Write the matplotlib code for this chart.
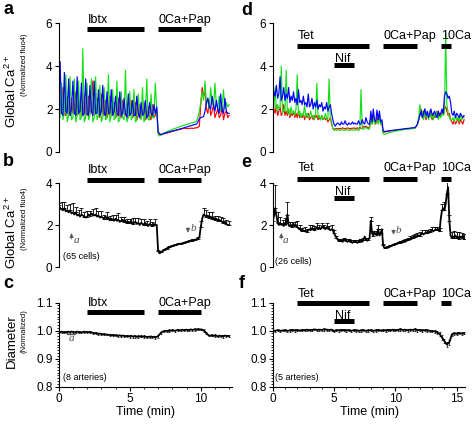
import numpy as np
import matplotlib
matplotlib.use('Agg')
import matplotlib.pyplot as plt
from matplotlib.ticker import MultipleLocator, FormatStrFormatter

plt.rcParams['font.family'] = 'Liberation Sans'
plt.rcParams['mathtext.fontset'] = 'custom'
plt.rcParams['mathtext.rm'] = 'Liberation Sans'
plt.rcParams['axes.linewidth'] = 0.8

# ---------------- data (sampled every 0.1 min unless noted) ----------------
# panel a: three example cells, Ibtx protocol
blue_a = [
    2.0, 4.2, 1.8, 1.7, 3.7, 1.9, 1.8, 3.4, 1.7, 2.0,
    3.3, 1.8, 1.7, 3.5, 1.8, 1.9, 3.2, 1.7, 1.8, 3.4,
    1.8, 1.7, 3.1, 1.9, 1.7, 3.3, 1.8, 1.8, 2.9, 1.7,
    1.9, 3.1, 1.8, 1.7, 2.8, 1.8, 1.8, 2.9, 1.7, 1.9,
    2.6, 1.8, 1.7, 2.8, 1.7, 1.8, 2.5, 1.8, 1.6, 2.7,
    1.7, 1.8, 2.4, 1.7, 1.7, 2.6, 1.8, 1.6, 2.3, 1.7,
    1.8, 2.4, 1.6, 1.7, 2.3, 1.8, 1.7, 2.2, 1.8, 2.1,
    0.95, 0.85, 0.82, 0.84, 0.87, 0.88, 0.9, 0.93, 0.93, 0.95,
    0.98, 0.99, 1.0, 1.03, 1.04, 1.06, 1.09, 1.1, 1.12, 1.15,
    1.16, 1.18, 1.21, 1.22, 1.24, 1.27, 1.28, 1.3, 1.4, 1.55,
    1.6, 1.62, 1.65, 1.9, 2.3, 2.5, 2.1, 2.0, 2.6, 2.2,
    1.9, 2.4, 2.0, 1.8, 2.7, 1.9, 1.8, 2.5, 1.9, 1.8, 1.8]
red_a = [
    2.8, 2.2, 1.9, 3.0, 1.8, 1.7, 2.6, 1.9, 1.7, 2.5,
    1.8, 1.9, 2.8, 1.7, 1.8, 2.4, 1.6, 1.9, 2.7, 1.8,
    1.7, 2.6, 1.8, 2.0, 3.3, 1.7, 1.8, 2.5, 1.9, 1.6,
    2.7, 1.8, 1.7, 2.4, 1.6, 1.8, 2.6, 1.7, 1.8, 2.3,
    1.6, 1.7, 2.5, 1.7, 1.6, 2.4, 1.8, 1.7, 2.2, 1.6,
    1.8, 2.4, 1.6, 1.7, 2.3, 1.5, 1.7, 2.2, 1.6, 1.8,
    2.3, 1.5, 1.6, 2.1, 1.7, 1.5, 2.2, 1.6, 1.7, 2.0,
    0.9, 0.82, 0.8, 0.82, 0.84, 0.86, 0.88, 0.9, 0.92, 0.94,
    0.96, 0.98, 1.0, 1.02, 1.03, 1.05, 1.06, 1.08, 1.1, 1.1,
    1.1, 1.09, 1.1, 1.11, 1.1, 1.1, 1.12, 1.12, 1.15, 1.2,
    2.2, 3.0, 2.6, 2.8, 2.0, 1.8, 2.4, 1.7, 1.9, 2.2,
    1.6, 1.8, 2.0, 1.6, 1.7, 2.1, 1.5, 1.8, 1.9, 1.6, 1.7]
green_a = [
    2.4, 1.6, 3.2, 1.5, 1.8, 3.6, 1.4, 1.7, 3.5, 1.5,
    1.6, 3.4, 1.4, 1.7, 3.3, 1.5, 1.6, 4.8, 1.4, 1.6,
    3.2, 1.5, 1.7, 3.4, 1.4, 1.6, 3.5, 1.5, 1.7, 3.1,
    1.4, 1.6, 3.0, 1.5, 1.6, 3.6, 1.4, 1.7, 2.9, 1.5,
    1.6, 3.3, 1.4, 1.5, 2.8, 1.6, 1.5, 3.8, 1.4, 1.6,
    2.8, 1.5, 1.6, 2.9, 1.4, 1.5, 2.7, 1.6, 1.5, 3.0,
    1.4, 1.6, 3.4, 1.5, 1.5, 2.7, 1.6, 1.6, 3.2, 2.0,
    0.8, 0.75, 0.78, 0.82, 0.86, 0.9, 0.94, 0.97, 1.0, 1.02,
    1.05, 1.08, 1.1, 1.12, 1.15, 1.17, 1.2, 1.22, 1.24, 1.26,
    1.28, 1.3, 1.32, 1.34, 1.36, 1.38, 1.4, 1.45, 1.6, 1.9,
    2.3, 2.8, 2.4, 3.3, 2.2, 2.5, 2.0, 3.0, 2.3, 2.1,
    3.2, 2.2, 2.0, 2.6, 1.9, 2.1, 2.9, 2.0, 2.3, 2.1, 2.2]

# panel b: mean of 65 cells, upper SEM every 0.2 min
mean_b = [
    2.95, 2.8, 2.75, 2.7, 2.8, 2.65, 2.7, 2.6, 2.7, 2.55,
    2.6, 2.5, 2.6, 2.45, 2.5, 2.4, 2.5, 2.45, 2.4, 2.35,
    2.4, 2.5, 2.45, 2.55, 2.5, 2.45, 2.5, 2.4, 2.45, 2.35,
    2.4, 2.35, 2.3, 2.4, 2.3, 2.35, 2.25, 2.3, 2.25, 2.2,
    2.3, 2.2, 2.25, 2.15, 2.2, 2.25, 2.15, 2.2, 2.1, 2.15,
    2.1, 2.2, 2.05, 2.1, 2.15, 2.05, 2.1, 2.0, 2.1, 2.05,
    2.0, 2.1, 2.0, 1.95, 2.05, 2.0, 1.95, 2.05, 2.0, 2.0,
    0.75, 0.65, 0.7, 0.75, 0.8, 0.85, 0.88, 0.92, 0.95, 0.97,
    1.0, 1.02, 1.04, 1.06, 1.08, 1.1, 1.11, 1.13, 1.15, 1.17,
    1.19, 1.2, 1.22, 1.24, 1.26, 1.28, 1.3, 1.32, 1.35, 1.4,
    1.9, 2.3, 2.5, 2.45, 2.4, 2.45, 2.35, 2.4, 2.3, 2.35,
    2.25, 2.3, 2.2, 2.25, 2.2, 2.15, 2.1, 2.15, 2.05, 2.0, 2.0]
err_b = [
    0.1, 0.35, 0.3, 0.25, 0.3, 0.45, 0.25, 0.2, 0.3, 0.2,
    0.25, 0.2, 0.25, 0.3, 0.2, 0.25, 0.2, 0.3, 0.2, 0.25,
    0.2, 0.3, 0.2, 0.25, 0.2, 0.2, 0.3, 0.2, 0.25, 0.2,
    0.3, 0.2, 0.25, 0.2, 0.3,
    0.05, 0.04, 0.04, 0.04, 0.04, 0.04, 0.04, 0.04, 0.05, 0.05,
    0.05, 0.05, 0.05, 0.05, 0.06,
    0.3, 0.3, 0.3, 0.25, 0.3, 0.2, 0.25, 0.2, 0.25, 0.2, 0.2]

# panel c: diameter, 8 arteries
diam_c = [
    0.995, 0.993, 0.996, 0.994, 0.995, 0.993, 0.996, 0.995, 0.994, 0.996,
    0.995, 0.993, 0.995, 0.996, 0.994, 0.995, 0.993, 0.995, 0.996, 0.994, 0.995,
    0.994, 0.995, 0.993, 0.992, 0.990, 0.991, 0.989, 0.988, 0.989, 0.987,
    0.986, 0.987, 0.985, 0.986, 0.984, 0.985, 0.983, 0.984, 0.982, 0.983,
    0.982, 0.981, 0.983, 0.980, 0.982, 0.981, 0.979, 0.981, 0.980, 0.979,
    0.981, 0.978, 0.980, 0.979, 0.977, 0.979, 0.978, 0.980, 0.977, 0.979,
    0.978, 0.976, 0.978, 0.977, 0.979, 0.976, 0.978, 0.975, 0.977, 0.980,
    0.986, 0.992, 0.996, 0.997, 0.998, 0.999, 0.998, 1.000, 0.999, 1.001,
    1.000, 0.999, 1.001, 1.002, 1.000, 1.001, 1.003, 1.001, 1.002, 1.003,
    1.001, 1.002, 1.004, 1.002, 1.003, 1.004, 1.002, 1.005, 1.003, 1.004,
    1.003, 1.000, 0.996, 0.990, 0.985, 0.982, 0.981, 0.983, 0.980, 0.982,
    0.981, 0.979, 0.982, 0.980, 0.981, 0.979, 0.982, 0.980, 0.981, 0.980]
err_c = [
    0.003, 0.004, 0.003, 0.004, 0.003, 0.004, 0.003, 0.004, 0.003, 0.004,
    0.004, 0.003, 0.004, 0.004, 0.003, 0.004, 0.004, 0.003, 0.004, 0.004,
    0.003, 0.004, 0.004, 0.003, 0.004, 0.004, 0.003, 0.004, 0.004, 0.003,
    0.004, 0.004, 0.003, 0.004, 0.004, 0.005, 0.004, 0.004, 0.003, 0.004,
    0.004, 0.003, 0.004, 0.004, 0.003, 0.004, 0.004, 0.003, 0.004, 0.004,
    0.003, 0.004, 0.004, 0.003, 0.004, 0.004, 0.003, 0.004, 0.004, 0.003, 0.004]

# panel d: three example cells, Tet / Nif / 10Ca protocol
blue_d = [
    3.0, 2.8, 2.6, 3.1, 2.5, 2.7, 3.5, 2.4, 2.6, 3.0,
    2.4, 2.7, 2.5, 3.0, 2.3, 2.6, 2.4, 2.8, 2.3, 2.5,
    2.2, 2.9, 2.3, 2.4, 2.2, 2.6, 2.2, 2.3, 2.1, 2.7,
    2.1, 2.2, 2.5, 2.0, 2.3, 2.1, 2.4, 2.0, 2.2, 2.1,
    2.3, 1.9, 2.1, 2.0, 2.3, 1.9, 2.1, 2.2, 1.8,
    1.5, 1.3, 1.2, 1.3, 1.35, 1.3, 1.25, 1.4, 1.3, 1.3,
    1.45, 1.3, 1.25, 1.35, 1.3, 1.3, 1.4, 1.3, 1.35, 1.3,
    1.3, 1.45, 1.3, 1.3, 1.5, 1.35, 1.3, 1.6, 1.4, 1.3, 1.3,
    1.9, 1.4, 2.0, 1.5, 1.4, 1.95, 1.5, 1.9, 1.4, 1.5,
    1.0, 0.95, 0.96, 0.97, 0.98, 0.99, 1.0, 1.0, 1.01, 1.02,
    1.02, 1.03, 1.04, 1.05, 1.05, 1.06, 1.07, 1.08, 1.08, 1.09,
    1.1, 1.1, 1.11, 1.12, 1.12, 1.13, 1.14, 1.2, 1.3,
    1.5, 1.7, 1.9, 1.6, 1.8, 2.0, 1.7, 1.9, 1.6, 1.8,
    2.0, 1.7, 1.8, 1.9, 1.7, 1.6, 1.9, 1.7, 1.8, 2.0, 1.8,
    2.6, 2.8, 2.7, 2.5, 2.6, 2.3,
    1.8, 1.7, 1.9, 1.6, 1.8, 1.7, 1.6, 1.8, 1.7, 1.6, 1.7]
red_d = [
    2.3, 2.0, 1.8, 2.2, 1.7, 1.9, 2.1, 1.7, 1.8, 2.2,
    1.7, 1.9, 1.7, 2.0, 1.6, 1.8, 1.7, 1.9, 1.6, 1.8,
    1.6, 1.9, 1.6, 1.7, 1.6, 1.8, 1.5, 1.7, 1.6, 1.8,
    1.5, 1.6, 1.7, 1.5, 1.7, 1.6, 1.7, 1.5, 1.6, 1.5,
    1.7, 1.5, 1.6, 1.5, 1.6, 1.4, 1.5, 1.6, 1.3,
    1.1, 1.05, 1.08, 1.1, 1.07, 1.1, 1.08, 1.1, 1.12, 1.1,
    1.08, 1.1, 1.12, 1.1, 1.08, 1.1, 1.1, 1.12, 1.1, 1.1,
    1.12, 1.1, 1.15, 1.1, 1.1, 1.2, 1.15, 1.2, 1.15, 1.1, 1.2,
    1.6, 1.3, 1.7, 1.4, 1.3, 1.6, 1.4, 1.7, 1.3, 1.4,
    0.92, 0.93, 0.94, 0.95, 0.96, 0.97, 0.98, 0.99, 1.0, 1.0,
    1.01, 1.02, 1.03, 1.03, 1.04, 1.05, 1.05, 1.06, 1.07, 1.07,
    1.08, 1.08, 1.09, 1.1, 1.1, 1.11, 1.12, 1.2, 1.3,
    1.5, 1.8, 2.0, 1.6, 1.9, 1.7, 1.5, 1.8, 1.6, 1.9,
    1.7, 1.5, 1.8, 1.6, 1.7, 1.9, 1.6, 1.8, 1.7, 1.9, 1.8,
    2.0, 2.1, 1.9, 1.7, 1.8, 1.5,
    1.4, 1.3, 1.5, 1.3, 1.4, 1.6, 1.3, 1.5, 1.4, 1.3, 1.5]
green_d = [
    2.6, 2.1, 3.0, 1.9, 2.2, 2.0, 2.1, 4.0, 1.8, 2.0,
    1.9, 3.8, 1.8, 2.0, 1.7, 2.1, 1.8, 1.9, 1.7, 2.0,
    3.6, 1.7, 1.9, 1.6, 1.8, 1.7, 2.2, 1.6, 1.8, 1.6,
    1.7, 1.9, 1.6, 1.7, 1.5, 1.8, 3.2, 1.6, 1.7, 1.5,
    1.7, 1.5, 1.6, 1.8, 1.5, 1.6, 3.4, 1.5, 1.4,
    1.1, 1.0, 1.05, 1.0, 1.02, 1.05, 1.0, 1.03, 1.05, 1.0,
    1.02, 1.05, 1.0, 1.03, 1.0, 1.05, 1.02, 1.0, 1.05, 1.02,
    1.05, 1.0, 1.05, 2.9, 1.1, 1.05, 1.1, 1.15, 1.1, 1.05, 1.1,
    1.5, 1.3, 1.6, 1.3, 1.4, 1.5, 1.3, 1.6, 1.3, 1.4,
    0.85, 0.82, 0.84, 0.86, 0.88, 0.9, 0.91, 0.93, 0.94, 0.96,
    0.97, 0.98, 0.99, 1.0, 1.01, 1.02, 1.03, 1.04, 1.05, 1.05,
    1.06, 1.07, 1.08, 1.08, 1.09, 1.1, 1.1, 1.2, 1.3,
    1.6, 2.2, 1.7, 1.9, 1.5, 2.0, 1.6, 1.8, 1.5, 1.9,
    1.6, 1.7, 1.5, 1.8, 1.6, 1.9, 1.5, 1.7, 1.6, 1.8, 1.7,
    1.8, 5.5, 2.2, 1.8, 1.6, 1.5,
    1.5, 1.6, 1.4, 1.7, 1.5, 1.6, 1.4, 1.7, 1.5, 1.6, 1.6]

# panel e: mean of 26 cells, upper SEM every 0.2 min
mean_e = [
    2.2, 2.4, 2.8, 2.5, 2.1, 2.0, 2.1, 2.0, 2.05, 1.95,
    2.1, 2.0, 2.5, 2.0, 1.95, 2.0, 1.9, 2.05, 1.95, 2.0,
    1.9, 1.85, 1.8, 1.75, 1.7, 1.75, 1.7, 1.72, 1.68, 1.75,
    1.8, 1.75, 1.85, 1.8, 1.75, 1.8, 1.9, 1.8, 1.85, 1.8,
    1.9, 1.95, 1.85, 1.8, 1.9, 1.85, 1.8, 1.75, 1.8,
    1.75, 1.6, 1.5, 1.4, 1.3, 1.25, 1.3, 1.25, 1.2, 1.3,
    1.35, 1.25, 1.2, 1.25, 1.3, 1.2, 1.15, 1.2, 1.25, 1.2,
    1.15, 1.2, 1.3, 1.25, 1.2, 1.3, 1.45, 1.3, 1.25, 1.3, 1.4,
    2.2, 1.6, 1.5, 1.65, 1.55, 1.5, 1.8, 1.5, 1.6, 1.8,
    1.05, 0.9, 0.92, 0.94, 0.96, 0.98, 1.0, 1.02, 1.04, 1.06,
    1.08, 1.1, 1.12, 1.14, 1.16, 1.18, 1.2, 1.22, 1.25, 1.28,
    1.3, 1.32, 1.34, 1.37, 1.4, 1.42, 1.44, 1.46, 1.48,
    1.5, 1.5, 1.55, 1.6, 1.55, 1.6, 1.65, 1.6, 1.7, 1.65,
    1.7, 1.75, 1.7, 1.75, 1.8, 1.75, 1.8, 1.7, 2.3, 2.7, 2.8,
    2.7, 3.0, 3.5, 3.8, 2.2, 1.5,
    1.4, 1.45, 1.4, 1.5, 1.4, 1.45, 1.35, 1.45, 1.4, 1.5, 1.35]
err_e = [
    0.3, 1.1, 0.5, 0.3, 0.2, 0.25, 0.6, 0.2, 0.25, 0.2,
    0.3, 0.2, 0.15, 0.2, 0.15, 0.2, 0.15, 0.2, 0.2, 0.15,
    0.2, 0.15, 0.2, 0.15, 0.2, 0.15, 0.1, 0.1, 0.1, 0.1,
    0.1, 0.1, 0.1, 0.1, 0.1, 0.1, 0.1, 0.1, 0.1, 0.1,
    0.2, 0.2, 0.15, 0.2, 0.2, 0.05, 0.05, 0.05, 0.05, 0.05,
    0.08, 0.08, 0.1, 0.1, 0.1, 0.1, 0.12, 0.12, 0.12, 0.12,
    0.15, 0.15, 0.15, 0.15, 0.15, 0.15, 0.15, 0.15, 0.15, 0.3,
    0.4, 0.6, 0.3, 0.25, 0.3, 0.25, 0.3, 0.2, 0.2]

# panel f: diameter, 5 arteries (every 0.2 min)
diam_f = [
    1.000, 0.999, 1.001, 0.999, 1.000, 1.001, 0.999, 1.000, 1.002, 1.000,
    1.001, 1.000, 1.002, 1.001, 1.003, 1.001, 1.002, 1.004, 1.002, 1.003,
    1.002, 1.004, 1.003, 1.002, 1.003, 0.998, 1.001, 1.000, 1.002, 1.001,
    1.000, 1.001, 0.999, 1.001, 1.000, 0.999, 1.000, 1.001, 0.999, 1.000,
    1.001, 0.999, 1.000, 1.002, 1.000, 1.001, 1.000, 1.002, 1.001, 1.003,
    1.001, 1.002, 1.004, 1.002, 1.003, 1.001, 1.003, 1.002, 1.004, 1.001,
    1.002, 1.000, 1.001, 1.000, 0.999, 0.998, 0.997, 0.994, 0.988, 0.975,
    0.962, 0.950, 0.958, 0.985, 0.990, 0.988, 0.991, 0.989, 0.990]
err_f = [
    0.003, 0.004, 0.003, 0.004, 0.003, 0.004, 0.003, 0.004, 0.003, 0.004,
    0.004, 0.003, 0.004, 0.004, 0.003, 0.004, 0.004, 0.003, 0.004, 0.004,
    0.003, 0.004, 0.004, 0.003, 0.004, 0.005, 0.003, 0.004, 0.004, 0.003,
    0.004, 0.004, 0.003, 0.004, 0.004, 0.003, 0.004, 0.004, 0.003, 0.004,
    0.004, 0.003, 0.004, 0.004, 0.003, 0.004, 0.004, 0.003, 0.004, 0.004,
    0.004, 0.005, 0.004, 0.005, 0.004, 0.005, 0.004, 0.005, 0.004, 0.005,
    0.004, 0.005, 0.004, 0.005, 0.004, 0.005, 0.005, 0.006, 0.006, 0.008,
    0.008, 0.01, 0.008, 0.006, 0.005, 0.005, 0.004, 0.005, 0.004]

# drug applications (min)
left_drugs = ['Ibtx', '0Ca+Pap']
left_on = [2.0, 7.0]
left_off = [6.0, 10.0]
right_drugs = ['Tet', 'Nif', '0Ca+Pap', '10Ca']
right_on = [2.0, 5.0, 9.0, 13.7]
right_off = [7.85, 6.65, 11.8, 14.55]

# ---------------- figure ----------------
fig = plt.figure(figsize=(4.72, 4.25), dpi=100)
W, H = 472.0, 425.0


def make_ax(x0, x1, ytop, ybot):
    return fig.add_axes([x0 / W, 1 - ybot / H, (x1 - x0) / W, (ybot - ytop) / H])


L0, L1 = 58.7, 232.0     # left column, 0..12.2 min
R0, R1 = 272.7, 465.3    # right column, 0..15.7 min
ax_a = make_ax(L0, L1, 23, 152)
ax_b = make_ax(L0, L1, 183, 267)
ax_c = make_ax(L0, L1, 302.5, 386.5)
ax_d = make_ax(R0, R1, 23, 152)
ax_e = make_ax(R0, R1, 183, 267)
ax_f = make_ax(R0, R1, 302.5, 386.5)

FS_TICK = 8.5
for ax, xmax in [(ax_a, 12.2), (ax_b, 12.2), (ax_c, 12.2),
                 (ax_d, 15.7), (ax_e, 15.7), (ax_f, 15.7)]:
    ax.set_xlim(0, xmax)
    ax.spines['top'].set_visible(False)
    ax.spines['right'].set_visible(False)
    ax.patch.set_visible(False)
    ax.tick_params(labelsize=FS_TICK, length=3, width=0.8, pad=1.5)
    ax.tick_params(which='minor', length=1.6, width=0.6)

for ax in [ax_a, ax_b, ax_d, ax_e]:
    ax.spines['bottom'].set_visible(False)
    ax.set_xticks([])

for ax in [ax_a, ax_d]:
    ax.set_ylim(0, 6)
    ax.set_yticks([0, 2, 4, 6])
for ax in [ax_b, ax_e]:
    ax.set_ylim(0, 4)
    ax.set_yticks([0, 2, 4])
for ax in [ax_c, ax_f]:
    ax.set_ylim(0.8, 1.1)
    ax.set_yticks([0.8, 0.9, 1.0, 1.1])
    ax.yaxis.set_major_formatter(FormatStrFormatter('%.1f'))
    ax.yaxis.set_minor_locator(MultipleLocator(0.01))
    ax.xaxis.set_minor_locator(MultipleLocator(1))
    ax.set_xlabel('Time (min)', fontsize=9, labelpad=1)
ax_c.set_xticks([0, 5, 10])
ax_f.set_xticks([0, 5, 10, 15])

RED, GREEN, BLUE = '#ff0000', '#14e01a', '#0000ff'
LW = 0.85

t = np.arange(len(red_a)) * 0.1
ax_a.plot(t, red_a, color=RED, lw=LW)
ax_a.plot(t, green_a, color=GREEN, lw=LW)
ax_a.plot(t, blue_a, color=BLUE, lw=LW)

t = np.arange(len(red_d)) * 0.1
ax_d.plot(t, red_d, color=RED, lw=LW)
ax_d.plot(t, green_d, color=GREEN, lw=LW)
ax_d.plot(t, blue_d, color=BLUE, lw=LW)


def mean_trace(ax, y, err, step_every):
    tt = np.arange(len(y)) * 0.1
    ax.plot(tt, y, color='k', lw=1.3)
    te = tt[::step_every]
    ye = np.array(y)[::step_every]
    ax.errorbar(te, ye, yerr=[np.zeros(len(err)), err], fmt='none', ecolor='k',
                elinewidth=0.6, capsize=1.2, capthick=0.6)


mean_trace(ax_b, mean_b, err_b, 2)
mean_trace(ax_e, mean_e, err_e, 2)

tc = np.arange(len(diam_c)) * 0.1
ax_c.errorbar(tc[::2], np.array(diam_c)[::2], yerr=err_c, fmt='none', ecolor='k',
              elinewidth=0.5, capsize=0.8, capthick=0.5)
ax_c.plot(tc, diam_c, color='k', lw=1.3)
tf = np.arange(len(diam_f)) * 0.2
ax_f.errorbar(tf, diam_f, yerr=err_f, fmt='none', ecolor='k',
              elinewidth=0.5, capsize=0.8, capthick=0.5)
ax_f.plot(tf, diam_f, color='k', lw=1.3)


def drug_bars(ax, names, on, off, ybar, ytxt, ybar2=None, ytxt2=None):
    for name, a, b in zip(names, on, off):
        yb, yt = (ybar2, ytxt2) if name == 'Nif' else (ybar, ytxt)
        ax.plot([a, b], [yb, yb], color='k', lw=3.6, solid_capstyle='butt',
                clip_on=False)
        ax.text(a + 0.05, yt, name, fontsize=9, ha='left', va='baseline',
                clip_on=False)


drug_bars(ax_a, left_drugs, left_on, left_off, 5.71, 5.99)
drug_bars(ax_b, left_drugs, left_on, left_off, 4.14, 4.46)
drug_bars(ax_c, left_drugs, left_on, left_off, 1.067, 1.088)
drug_bars(ax_d, right_drugs, right_on, right_off, 4.93, 5.26, 4.05, 4.17)
drug_bars(ax_e, right_drugs, right_on, right_off, 4.2, 4.56, 3.29, 3.45)
drug_bars(ax_f, right_drugs, right_on, right_off, 1.098, 1.121, 1.033, 1.042)

# annotations
arr = dict(arrowstyle='-|>,head_length=0.25,head_width=0.12', color='0.35', lw=0.6)
ax_b.annotate('', xy=(0.9, 1.75), xytext=(0.9, 1.2), arrowprops=arr)
ax_b.text(1.02, 1.15, 'a', fontsize=8, family='Liberation Serif', style='italic', color='0.3')
ax_b.annotate('', xy=(9.1, 1.5), xytext=(9.1, 2.0), arrowprops=arr)
ax_b.text(9.25, 1.72, 'b', fontsize=8, family='Liberation Serif', style='italic', color='0.3')
ax_b.text(0.3, 0.4, '(65 cells)', fontsize=6.5)

ax_e.annotate('', xy=(0.7, 1.75), xytext=(0.7, 1.2), arrowprops=arr)
ax_e.text(0.82, 1.15, 'a', fontsize=8, family='Liberation Serif', style='italic', color='0.3')
ax_e.annotate('', xy=(9.85, 1.4), xytext=(9.85, 1.9), arrowprops=arr)
ax_e.text(10.0, 1.6, 'b', fontsize=8, family='Liberation Serif', style='italic', color='0.3')
ax_e.text(0.2, 0.12, '(26 cells)', fontsize=6.5)

ax_c.plot([0.6, 0.65, 1.15, 1.2], [0.988, 0.985, 0.985, 0.988], color='0.2', lw=0.7)
ax_c.text(0.9, 0.962, 'a', fontsize=8, family='Liberation Serif', style='italic',
          color='0.3', ha='center')
ax_c.text(0.3, 0.822, '(8 arteries)', fontsize=6.5)
ax_f.text(0.2, 0.822, '(5 arteries)', fontsize=6.5)

# panel letters
for lab, x, y in [('a', 3, 13.5), ('b', 3, 166), ('c', 3, 288),
                  ('d', 241, 15), ('e', 241, 167), ('f', 239, 288)]:
    fig.text(x / W, 1 - y / H, lab, fontsize=13, fontweight='bold', va='baseline')

# y labels
for yc, ys in [(92, 65), (233, 219)]:
    fig.text(11.5 / W, 1 - yc / H, 'Global Ca$^{2+}$', fontsize=9.5, rotation=90,
             ha='center', va='center')
    fig.text(24 / W, 1 - ys / H, '(Normalized fluo4)', fontsize=5.5, rotation=90,
             ha='center', va='center')
fig.text(11.5 / W, 1 - 341 / H, 'Diameter', fontsize=9.5, rotation=90,
         ha='center', va='center')
fig.text(24 / W, 1 - 331 / H, '(Normalized)', fontsize=5.5, rotation=90,
         ha='center', va='center')

fig.savefig('out.png', dpi=100)
